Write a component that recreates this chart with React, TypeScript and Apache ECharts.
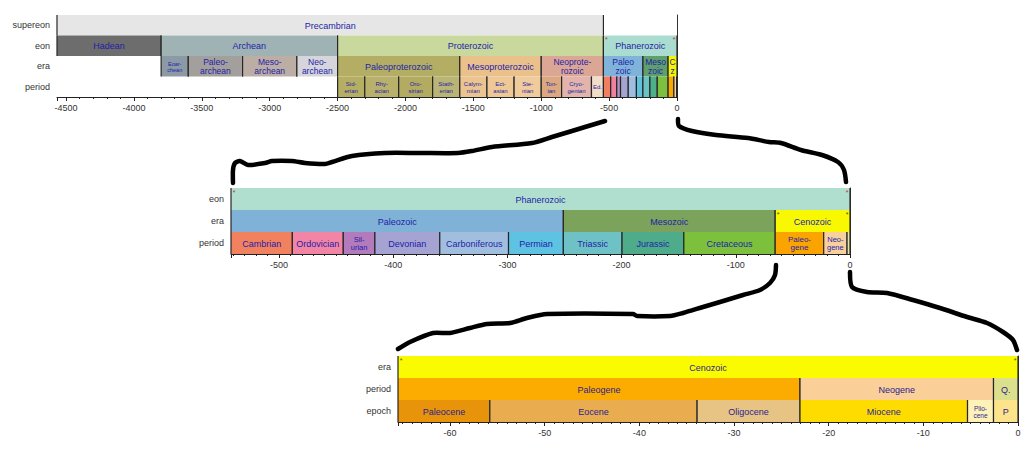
import React, { useEffect, useRef } from "react";
import * as echarts from "echarts";

// ---------- data ----------
type Unit = [string, number, number]; // name, start (Ma, negative), end

const TOP_ROWS = ["supereon", "eon", "era", "period"];
const MID_ROWS = ["eon", "era", "period"];
const BOT_ROWS = ["era", "period", "epoch"];

const topSupereons: Unit[] = [["Precambrian", -4567, -542]];
const topEons: Unit[] = [
  ["Hadean", -4567, -3800],
  ["Archean", -3800, -2500],
  ["Proterozoic", -2500, -542],
  ["Phanerozoic", -542, 0],
];
const topEras: Unit[] = [
  ["Eoarchean", -3800, -3600],
  ["Paleoarchean", -3600, -3200],
  ["Mesoarchean", -3200, -2800],
  ["Neoarchean", -2800, -2500],
  ["Paleoproterozoic", -2500, -1600],
  ["Mesoproterozoic", -1600, -1000],
  ["Neoproterozoic", -1000, -542],
  ["Paleozoic", -542, -251],
  ["Mesozoic", -251, -65.5],
  ["Cenozoic", -65.5, 0],
];
const phanerozoicPeriods: Unit[] = [
  ["Cambrian", -542, -488.3],
  ["Ordovician", -488.3, -443.7],
  ["Silurian", -443.7, -416],
  ["Devonian", -416, -359.2],
  ["Carboniferous", -359.2, -299],
  ["Permian", -299, -251],
  ["Triassic", -251, -199.6],
  ["Jurassic", -199.6, -145.5],
  ["Cretaceous", -145.5, -65.5],
  ["Paleogene", -65.5, -23.03],
  ["Neogene", -23.03, -2.588],
  ["Quaternary", -2.588, 0],
];
const topPeriods: Unit[] = [
  ["Siderian", -2500, -2300],
  ["Rhyacian", -2300, -2050],
  ["Orosirian", -2050, -1800],
  ["Statherian", -1800, -1600],
  ["Calymmian", -1600, -1400],
  ["Ectasian", -1400, -1200],
  ["Stenian", -1200, -1000],
  ["Tonian", -1000, -850],
  ["Cryogenian", -850, -630],
  ["Ediacaran", -630, -542],
  ...phanerozoicPeriods,
];
const midEons: Unit[] = [["Phanerozoic", -542, 0]];
const midEras: Unit[] = [
  ["Paleozoic", -542, -251],
  ["Mesozoic", -251, -65.5],
  ["Cenozoic", -65.5, 0],
];
const midPeriods: Unit[] = phanerozoicPeriods;
const botEras: Unit[] = [["Cenozoic", -65.5, 0]];
const botPeriods: Unit[] = [
  ["Paleogene", -65.5, -23.03],
  ["Neogene", -23.03, -2.588],
  ["Quaternary", -2.588, 0],
];
const botEpochs: Unit[] = [
  ["Paleocene", -65.5, -55.8],
  ["Eocene", -55.8, -33.9],
  ["Oligocene", -33.9, -23.03],
  ["Miocene", -23.03, -5.332],
  ["Pliocene", -5.332, -2.588],
  ["Pleistocene", -2.588, 0],
];

// display labels (overrides of the unit name)
const TOP_LABELS: Record<string, string> = {
  Eoarchean: "Eoar-\nchean",
  Paleoarchean: "Paleo-\narchean",
  Mesoarchean: "Meso-\narchean",
  Neoarchean: "Neo-\narchean",
  Neoproterozoic: "Neoprote-\nrozoic",
  Paleozoic: "Paleo\nzoic",
  Mesozoic: "Meso\nzoic",
  Cenozoic: "C\nz",
  Siderian: "Sid-\nerian",
  Rhyacian: "Rhy-\nacian",
  Orosirian: "Oro-\nsirian",
  Statherian: "Stath-\nerian",
  Calymmian: "Calym-\nmian",
  Ectasian: "Ect-\nasian",
  Stenian: "Ste-\nnian",
  Tonian: "Ton-\nian",
  Cryogenian: "Cryo-\ngenian",
  Ediacaran: "Ed.",
  Cambrian: "", Ordovician: "", Silurian: "", Devonian: "", Carboniferous: "",
  Permian: "", Triassic: "", Jurassic: "", Cretaceous: "", Paleogene: "",
  Neogene: "", Quaternary: "",
};
const MID_LABELS: Record<string, string> = {
  Silurian: "Sil-\nurian",
  Paleogene: "Paleo-\ngene",
  Neogene: "Neo-\ngene",
  Quaternary: "",
};
const BOT_LABELS: Record<string, string> = {
  Quaternary: "Q.",
  Pliocene: "Plio-\ncene",
  Pleistocene: "P",
};

// stars: [x, rowIndex, direction]
const topStars: [number, number, number][] = [[-542, 1, 1], [0, 1, -1]];
const midStarsRed: [number, number, number][] = [[-542, 0, 1], [0, 0, -1]];
const midStarsDark: [number, number, number][] = [[-65.5, 1, 1], [0, 1, -1]];
const botStars: [number, number, number][] = [[-65.5, 0, 1], [0, 0, -1]];

// ---------- styles ----------
const TOP_COLORS: Record<string, string> = {
  Precambrian: "#e6e6e6",
  Hadean: "#6d6d6d",
  Archean: "#9fb3b4",
  Proterozoic: "#c9d89c",
  Phanerozoic: "#aadccf",
  Eoarchean: "#8c9aa5",
  Paleoarchean: "#a39f9c",
  Mesoarchean: "#bcaea4",
  Neoarchean: "#d5d5db",
  Paleoproterozoic: "#b3ae64",
  Mesoproterozoic: "#eac18b",
  Neoproterozoic: "#dba694",
  Paleozoic: "#80b3d9",
  Mesozoic: "#5e9f6c",
  Cenozoic: "#f5f500",
  Siderian: "#b6af63",
  Rhyacian: "#b9b16b",
  Orosirian: "#b3ab61",
  Statherian: "#bab575",
  Calymmian: "#ebc48f",
  Ectasian: "#eec895",
  Stenian: "#f0cb9c",
  Tonian: "#dba880",
  Cryogenian: "#e3b4ab",
  Ediacaran: "#f2ddc8",
  Cambrian: "#f07f61",
  Ordovician: "#f1829f",
  Silurian: "#b590c2",
  Devonian: "#a5a3d0",
  Carboniferous: "#9fbde0",
  Permian: "#5fc1dc",
  Triassic: "#6cc3c4",
  Jurassic: "#4eb08b",
  Cretaceous: "#7dbf3f",
  Paleogene: "#f9a800",
  Neogene: "#f8d49e",
  Quaternary: "#e8e88c",
};
const MID_COLORS: Record<string, string> = {
  Phanerozoic: "#b0dfd0",
  Paleozoic: "#80b2d7",
  Mesozoic: "#7ba35b",
  Cenozoic: "#f8f800",
  Cambrian: "#f28160",
  Ordovician: "#f285a5",
  Silurian: "#b47bbc",
  Devonian: "#a5a3d2",
  Carboniferous: "#a2bedf",
  Permian: "#5ec2e2",
  Triassic: "#6ec2c6",
  Jurassic: "#4fac8a",
  Cretaceous: "#7cc03c",
  Paleogene: "#fba400",
  Neogene: "#f8d09e",
  Quaternary: "#e6e6a0",
};
const BOT_COLORS: Record<string, string> = {
  Cenozoic: "#fafa00",
  Paleogene: "#fcab00",
  Neogene: "#fbcf98",
  Quaternary: "#dcdf8c",
  Paleocene: "#e8940a",
  Eocene: "#e9ad50",
  Oligocene: "#e8c484",
  Miocene: "#ffdc00",
  Pliocene: "#fff2b8",
  Pleistocene: "#fde48a",
};
const TOP_SIZES: Record<string, number> = {
  Eoarchean: 5.5,
  Paleoarchean: 8.5, Mesoarchean: 8.5, Neoarchean: 8.5, Neoproterozoic: 8.5,
  Paleozoic: 8.5, Mesozoic: 8.5, Cenozoic: 8.5,
};
const MID_SIZES: Record<string, number> = { Silurian: 7.5, Paleogene: 8, Neogene: 7.5 };
const BOT_SIZES: Record<string, number> = { Pliocene: 6.5 };

const FONT = "Liberation Sans, Arial, Helvetica, sans-serif";
const EDGE = "#262626";

type Item = { name: string; start: number; end: number; row: number; color: string; label: string; size: number };

function buildItems(
  rows: { units: Unit[]; row: number; size: number }[],
  colors: Record<string, string>,
  labels: Record<string, string>,
  sizes: Record<string, number>
): Item[] {
  const out: Item[] = [];
  rows.forEach((r) =>
    r.units.forEach((u) =>
      out.push({
        name: u[0],
        start: u[1],
        end: u[2],
        row: r.row,
        color: colors[u[0]] || "#dddddd",
        label: labels[u[0]] !== undefined ? labels[u[0]] : u[0],
        size: sizes[u[0]] || r.size,
      })
    )
  );
  return out;
}

function makeRender(items: Item[], textColor: string) {
  return (params: any, api: any) => {
    const it = items[params.dataIndex];
    const a = api.coord([it.start, it.row]);
    const b = api.coord([it.end, it.row]);
    const h = api.size([0, 1])[1];
    const top = a[1] - h / 2;
    const w = b[0] - a[0];
    const children: any[] = [
      { type: "rect", shape: { x: a[0], y: top, width: w, height: h }, style: { fill: it.color } },
      { type: "line", shape: { x1: a[0], y1: top, x2: a[0], y2: top + h }, style: { stroke: EDGE, lineWidth: 1.2 } },
      { type: "line", shape: { x1: b[0], y1: top, x2: b[0], y2: top + h }, style: { stroke: EDGE, lineWidth: 1.2 } },
    ];
    if (it.label) {
      children.push({
        type: "text",
        x: a[0] + w / 2,
        y: top + h / 2 + 0.5,
        style: {
          text: it.label,
          fill: textColor,
          fontSize: it.size,
          fontFamily: FONT,
          align: "center",
          verticalAlign: "middle",
          lineHeight: it.size + 0.5,
        },
      });
    }
    return { type: "group", children };
  };
}

function starSeries(stars: [number, number, number][], idx: number, color: string) {
  return {
    type: "custom",
    xAxisIndex: idx,
    yAxisIndex: idx,
    silent: true,
    z: 6,
    data: stars.map((s) => [s[0], s[1]]),
    encode: { x: 0, y: 1 },
    clip: false,
    renderItem: (params: any, api: any) => {
      const s = stars[params.dataIndex];
      const c = api.coord([s[0], s[1]]);
      const h = api.size([0, 1])[1];
      return {
        type: "text",
        x: c[0] + s[2] * 3,
        y: c[1] - h / 2 + 4,
        style: { text: "*", fill: color, fontSize: 7, fontFamily: FONT, align: "center", verticalAlign: "middle" },
      };
    },
  };
}

// decorative hand-drawn connectors (pixel layout)
const CONNECTORS: number[][][] = [
  [[605, 121], [585, 127], [572, 131], [552, 137], [532, 143], [492, 147], [472, 151], [458, 153], [420, 153], [385, 153], [352, 156], [332, 162], [325, 164], [305, 163], [292, 161], [272, 161], [265, 163], [248, 165], [240, 161], [235, 163], [233, 170], [233, 183]],
  [[678, 119], [679, 126], [692, 131], [716, 135], [748, 138], [769, 142], [781, 143], [801, 150], [822, 155], [838, 162], [844, 170], [846, 182]],
  [[776, 265], [775, 275], [770, 283], [760, 290], [743, 295], [720, 302], [703, 307], [683, 313], [670, 316], [637, 316], [633, 314], [547, 314], [527, 318], [510, 323], [487, 324], [470, 328], [450, 333], [433, 333], [410, 342], [398, 349]],
  [[850, 272], [852, 287], [867, 292], [887, 293], [913, 300], [940, 308], [967, 317], [987, 323], [1003, 332], [1013, 340], [1017, 350]],
];

function xAxisOpt(idx: number, min: number, splitNumber: number, minorSplit: number, step: number) {
  return {
    type: "value",
    gridIndex: idx,
    min,
    max: 0,
    splitNumber,
    axisLine: { show: true, onZero: false, lineStyle: { color: "#222", width: 1 } },
    axisTick: { show: true, length: 4, lineStyle: { color: "#222" } },
    minorTick: { show: true, splitNumber: minorSplit, length: 2, lineStyle: { color: "#222" } },
    splitLine: { show: false },
    minorSplitLine: { show: false },
    axisLabel: {
      fontSize: 9,
      color: "#333",
      fontFamily: FONT,
      margin: 6,
      showMinLabel: false,
      formatter: (v: number) => (Math.abs(v % step) < 1e-6 ? String(Math.round(v)) : ""),
    },
  };
}

function yAxisOpt(idx: number, rows: string[]) {
  return {
    type: "category",
    gridIndex: idx,
    data: rows,
    inverse: true,
    axisLine: { show: true, lineStyle: { color: "#333", width: 1 } },
    axisTick: { show: false },
    splitLine: { show: false },
    axisLabel: { fontSize: 9, color: "#333", fontFamily: FONT, margin: 7 },
  };
}

export default function App() {
  const ref = useRef<HTMLDivElement>(null);
  useEffect(() => {
    if (!ref.current) return;
    const chart = echarts.init(ref.current, undefined, { renderer: "svg" });

    const topItems = buildItems(
      [
        { units: topSupereons, row: 0, size: 9 },
        { units: topEons, row: 1, size: 9 },
        { units: topEras, row: 2, size: 9 },
        { units: topPeriods, row: 3, size: 6 },
      ],
      TOP_COLORS,
      TOP_LABELS,
      TOP_SIZES
    );
    const midItems = buildItems(
      [
        { units: midEons, row: 0, size: 9 },
        { units: midEras, row: 1, size: 9 },
        { units: midPeriods, row: 2, size: 9 },
      ],
      MID_COLORS,
      MID_LABELS,
      MID_SIZES
    );
    const botItems = buildItems(
      [
        { units: botEras, row: 0, size: 9 },
        { units: botPeriods, row: 1, size: 9 },
        { units: botEpochs, row: 2, size: 9 },
      ],
      BOT_COLORS,
      BOT_LABELS,
      BOT_SIZES
    );

    const blockSeries = (items: Item[], idx: number, textColor: string) => ({
      type: "custom",
      xAxisIndex: idx,
      yAxisIndex: idx,
      silent: true,
      clip: false,
      z: 2,
      data: items.map((it) => [it.start, it.end, it.row]),
      encode: { x: [0, 1], y: 2 },
      renderItem: makeRender(items, textColor),
    });

    chart.setOption({
      animation: false,
      backgroundColor: "#ffffff",
      grid: [
        { left: 57, width: 620, top: 15, height: 82 },
        { left: 231, width: 619, top: 188, height: 66 },
        { left: 398, width: 620, top: 356, height: 66 },
      ],
      xAxis: [
        xAxisOpt(0, -4567, 9, 5, 500),
        xAxisOpt(1, -542, 6, 10, 100),
        xAxisOpt(2, -65.5, 7, 10, 10),
      ],
      yAxis: [yAxisOpt(0, TOP_ROWS), yAxisOpt(1, MID_ROWS), yAxisOpt(2, BOT_ROWS)],
      series: [
        blockSeries(topItems, 0, "#1e1ea8"),
        blockSeries(midItems, 1, "#1e1ea8"),
        blockSeries(botItems, 2, "#2a1e92"),
        starSeries(topStars, 0, "#d03030"),
        starSeries(midStarsRed, 1, "#d03030"),
        starSeries(midStarsDark, 1, "#555500"),
        starSeries(botStars, 2, "#556600"),
      ],
      graphic: CONNECTORS.map((pts) => ({
        type: "polyline",
        z: 100,
        silent: true,
        shape: { points: pts, smooth: 0.25 },
        style: { stroke: "#000", lineWidth: 4.5, fill: "none", lineCap: "round", lineJoin: "round" },
      })),
    });

    return () => chart.dispose();
  }, []);

  return (
    <div
      ref={ref}
      style={{ position: "fixed", left: 0, top: 0, width: 1024, height: 455, background: "#fff" }}
    />
  );
}
